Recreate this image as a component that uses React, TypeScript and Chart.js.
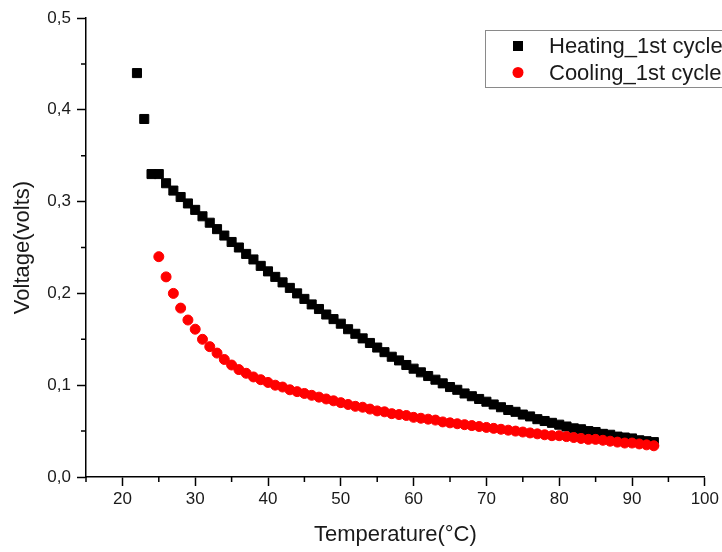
import { useEffect, useRef } from 'react';
import { Chart, registerables } from 'chart.js';

Chart.register(...registerables);

const heatingTemps = [22, 23, 24, 25, 26, 27, 28, 29, 30, 31, 32, 33, 34, 35, 36, 37, 38, 39, 40, 41, 42, 43, 44, 45, 46, 47, 48, 49, 50, 51, 52, 53, 54, 55, 56, 57, 58, 59, 60, 61, 62, 63, 64, 65, 66, 67, 68, 69, 70, 71, 72, 73, 74, 75, 76, 77, 78, 79, 80, 81, 82, 83, 84, 85, 86, 87, 88, 89, 90, 91, 92, 93];
const heatingVolts = [0.44, 0.39, 0.33, 0.33, 0.320, 0.312, 0.305, 0.298, 0.291, 0.284, 0.277, 0.270, 0.263, 0.256, 0.250, 0.243, 0.237, 0.230, 0.224, 0.218, 0.212, 0.206, 0.200, 0.194, 0.188, 0.183, 0.177, 0.172, 0.167, 0.161, 0.156, 0.151, 0.146, 0.141, 0.136, 0.131, 0.127, 0.122, 0.118, 0.114, 0.110, 0.106, 0.102, 0.098, 0.095, 0.091, 0.088, 0.085, 0.082, 0.079, 0.076, 0.073, 0.071, 0.068, 0.066, 0.063, 0.061, 0.059, 0.057, 0.055, 0.053, 0.052, 0.050, 0.049, 0.047, 0.046, 0.044, 0.043, 0.042, 0.040, 0.039, 0.038];

const coolingTemps = [25, 26, 27, 28, 29, 30, 31, 32, 33, 34, 35, 36, 37, 38, 39, 40, 41, 42, 43, 44, 45, 46, 47, 48, 49, 50, 51, 52, 53, 54, 55, 56, 57, 58, 59, 60, 61, 62, 63, 64, 65, 66, 67, 68, 69, 70, 71, 72, 73, 74, 75, 76, 77, 78, 79, 80, 81, 82, 83, 84, 85, 86, 87, 88, 89, 90, 91, 92, 93];
const coolingVolts = [0.240, 0.218, 0.200, 0.184, 0.171, 0.161, 0.150, 0.142, 0.135, 0.128, 0.122, 0.117, 0.113, 0.109, 0.106, 0.103, 0.100, 0.098, 0.095, 0.093, 0.091, 0.089, 0.087, 0.085, 0.083, 0.081, 0.079, 0.077, 0.076, 0.074, 0.072, 0.071, 0.069, 0.068, 0.067, 0.065, 0.064, 0.063, 0.062, 0.060, 0.059, 0.058, 0.057, 0.056, 0.055, 0.054, 0.053, 0.052, 0.051, 0.050, 0.049, 0.048, 0.047, 0.046, 0.045, 0.045, 0.044, 0.043, 0.042, 0.041, 0.041, 0.040, 0.039, 0.038, 0.037, 0.037, 0.036, 0.035, 0.034];

const xMajorTicks = [20, 30, 40, 50, 60, 70, 80, 90, 100];
const xMinorTicks = [15, 25, 35, 45, 55, 65, 75, 85, 95];
const yMajorTicks = [0, 0.1, 0.2, 0.3, 0.4, 0.5];
const yMinorTicks = [0.05, 0.15, 0.25, 0.35, 0.45];

const FONT = '"Liberation Sans", Arial, sans-serif';
const TEXT = '#1a1a1a';

const minorTicksPlugin = {
  id: 'minorTicks',
  afterDraw(chart: any) {
    const { ctx } = chart;
    const x = chart.scales.x;
    const y = chart.scales.y;
    ctx.save();
    ctx.strokeStyle = '#000';
    ctx.lineWidth = 1.5;
    ctx.beginPath();
    xMinorTicks.forEach((v) => {
      const px = x.getPixelForValue(v);
      ctx.moveTo(px, x.top);
      ctx.lineTo(px, x.top + 5);
    });
    yMinorTicks.forEach((v) => {
      const py = y.getPixelForValue(v);
      ctx.moveTo(y.right, py);
      ctx.lineTo(y.right - 5, py);
    });
    ctx.stroke();
    ctx.restore();
  },
};

const boxLegendPlugin = {
  id: 'boxLegend',
  afterDraw(chart: any) {
    const { ctx } = chart;
    ctx.save();
    ctx.strokeStyle = '#8a8a8a';
    ctx.lineWidth = 1;
    ctx.strokeRect(485.5, 30.5, 270, 57);
    ctx.font = `22px ${FONT}`;
    ctx.textBaseline = 'middle';
    ctx.textAlign = 'left';
    chart.data.datasets.forEach((ds: any, i: number) => {
      const cy = 46 + i * 26.5;
      const cx = 518;
      ctx.fillStyle = ds.backgroundColor;
      if (ds.pointStyle === 'rect') {
        ctx.fillRect(cx - 5, cy - 5, 10, 10);
      } else {
        ctx.beginPath();
        ctx.arc(cx, cy, 5.5, 0, Math.PI * 2);
        ctx.fill();
      }
      ctx.fillStyle = TEXT;
      ctx.fillText(ds.label, 549, cy + 1);
    });
    ctx.restore();
  },
};

export default function App() {
  const canvasRef = useRef<HTMLCanvasElement | null>(null);

  useEffect(() => {
    const canvas = canvasRef.current;
    if (!canvas) return;
    const chart = new Chart(canvas, {
      type: 'scatter',
      data: {
        datasets: [
          {
            label: 'Heating_1st cycle',
            data: heatingTemps.map((t, i) => ({ x: t, y: heatingVolts[i] })),
            pointStyle: 'rect',
            backgroundColor: '#000000',
            borderColor: '#000000',
            borderWidth: 1,
            pointRadius: 6.4,
            order: 1,
          },
          {
            label: 'Cooling_1st cycle',
            data: coolingTemps.map((t, i) => ({ x: t, y: coolingVolts[i] })),
            pointStyle: 'circle',
            backgroundColor: '#ff0000',
            borderColor: '#ff0000',
            borderWidth: 1,
            pointRadius: 5,
            order: 0,
          },
        ],
      },
      options: {
        responsive: false,
        animation: false,
        devicePixelRatio: 1,
        layout: { padding: { top: 18, right: 16, left: 0, bottom: 0 } },
        plugins: {
          legend: { display: false },
          tooltip: { enabled: false },
        },
        scales: {
          x: {
            type: 'linear',
            min: 15,
            max: 100,
            afterBuildTicks: (scale: any) => {
              scale.ticks = xMajorTicks.map((v) => ({ value: v }));
            },
            afterFit: (scale: any) => {
              scale.height = 75;
            },
            grid: {
              display: true,
              drawOnChartArea: false,
              drawTicks: true,
              tickLength: 9,
              tickColor: '#000',
              tickWidth: 1.5,
            },
            border: { display: true, color: '#000', width: 1.5 },
            ticks: {
              color: TEXT,
              padding: 3,
              maxRotation: 0,
              autoSkip: false,
              font: { family: FONT, size: 17 },
              callback: (v: any) => String(v),
            },
            title: {
              display: true,
              text: 'Temperature(°C)',
              color: TEXT,
              font: { family: FONT, size: 22 },
              padding: { top: 0, bottom: 4 },
            },
          },
          y: {
            type: 'linear',
            min: 0,
            max: 0.5,
            afterBuildTicks: (scale: any) => {
              scale.ticks = yMajorTicks.map((v) => ({ value: v }));
            },
            afterFit: (scale: any) => {
              scale.width = 86;
            },
            grid: {
              display: true,
              drawOnChartArea: false,
              drawTicks: true,
              tickLength: 9,
              tickColor: '#000',
              tickWidth: 1.5,
            },
            border: { display: true, color: '#000', width: 1.5 },
            ticks: {
              color: TEXT,
              padding: 6,
              autoSkip: false,
              font: { family: FONT, size: 17 },
              callback: (v: any) => Number(v).toFixed(1).replace('.', ','),
            },
            title: {
              display: true,
              text: 'Voltage(volts)',
              color: TEXT,
              font: { family: FONT, size: 22 },
              padding: { top: 10, bottom: 0 },
            },
          },
        },
      },
      plugins: [minorTicksPlugin, boxLegendPlugin],
    });
    return () => {
      chart.destroy();
    };
  }, []);

  return (
    <div style={{ position: 'fixed', left: 0, top: 0, width: 722, height: 552, background: '#fff' }}>
      <canvas ref={canvasRef} width={722} height={552} style={{ display: 'block', width: 722, height: 552 }} />
    </div>
  );
}
